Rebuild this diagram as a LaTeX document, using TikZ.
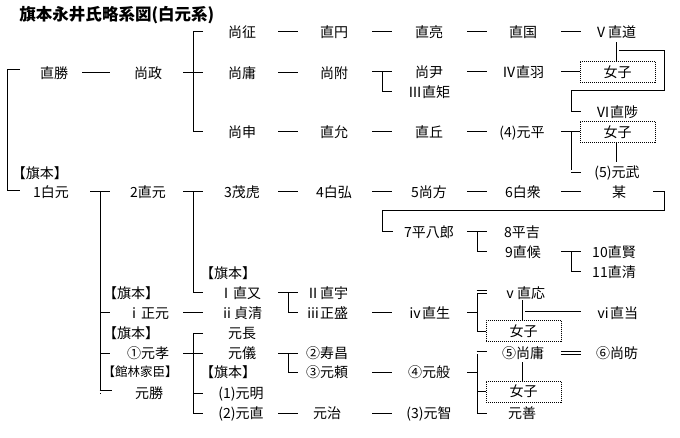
\documentclass[tikz,border=0pt]{standalone}
\usepackage{fontspec}
\setmainfont{Noto Sans CJK JP}
\usetikzlibrary{calc}
\newcommand\mydash[3]{\draw ($(#1 |- #2)+(-#3,0)$) -- ($(#1 |- #2)+(#3,0)$);}
\newcommand\fw[1]{\makebox[1em][c]{#1}}
\begin{document}
\begin{tikzpicture}[x=1pt,y=-1pt,line width=1pt,
  jp/.style={inner sep=0pt,text height=12.3pt,text depth=1.7pt,font=\fontsize{14}{14}\selectfont},
  lbl/.style={inner sep=0pt,text height=11.2pt,text depth=1.6pt,font=\fontsize{12.5}{12.5}\selectfont},
  jbox/.style={jp,draw,dash pattern=on 1pt off 1pt,line width=0.8pt,minimum width=75pt,minimum height=21pt},
  dbl/.style={double,double distance=2pt,line width=0.9pt}]
\fill[white] (0,0) rectangle (680,438);
\useasboundingbox (0,0) rectangle (680,438);
% gap columns
\coordinate (gL) at (7,0);
\coordinate (gA) at (100,0);
\coordinate (gB) at (193,0);
\coordinate (gC) at (288,0);
\coordinate (gD) at (382,0);
\coordinate (gE) at (477,0);
\coordinate (gF) at (571,0);
% title
\node[anchor=west,inner sep=0pt,font=\fontsize{16.5}{17}\selectfont\bfseries] (title) at (19,15) {旗本永井氏略系図(白元系)};
% row 1
\node[jp] (n11) at (242,32) {尚征};
\node[jp] (n12) at (334,32) {直円};
\node[jp] (n13) at (429,32) {直亮};
\node[jp] (n14) at (523,32) {直国};
\node[jp] (n15) at (615,32) {\fw{Ⅴ}直道};
% row 2
\node[jp] (katsu) at (54,73) {直勝};
\node[jp] (masa) at (148,73) {尚政};
\node[jp] (n21) at (242,73) {尚庸};
\node[jp] (n22) at (334,73) {尚附};
\node[jp] (n23) at (429,72) {尚尹};
\node[jp] (n24) at (523,72) {\fw{Ⅳ}直羽};
\node[jbox] (jo1) at (617.5,72) {女子};
\node[jp] (n23b) at (429,92) {\fw{Ⅲ}直矩};
\node[jp] (n6) at (617,112) {\fw{Ⅵ}直陟};
% row 3
\node[jp] (n31) at (242,132) {尚申};
\node[jp] (n32) at (334,132) {直允};
\node[jp] (n33) at (429,132) {直丘};
\node[jp] (n34) at (522,132) {(4)元平};
\node[jbox] (jo2) at (617.5,132) {女子};
\node[jp] (n35) at (617,172) {(5)元武};
% row 4
\node[jp] (hb1) at (40,173) {【旗本】};
\node[jp] (r1) at (51,192) {1白元};
\node[jp] (r2) at (148,192) {2直元};
\node[jp] (r3) at (242,192) {3茂虎};
\node[jp] (r4) at (334,192) {4白弘};
\node[jp] (r5) at (429,192) {5尚方};
\node[jp] (r6) at (523,192) {6白衆};
\node[jp] (r7) at (619,192) {某};
\node[jp] (r8) at (429,232) {7平八郎};
\node[jp] (r9) at (522,232) {8平吉};
\node[jp] (r10) at (523,252) {9直候};
\node[jp] (r11) at (614,252) {10直賢};
\node[jp] (r12) at (614,272) {11直清};
% bottom part
\node[jp] (hb2) at (228,273) {【旗本】};
\node[jp] (b1) at (240,293) {\fw{Ⅰ}直又};
\node[jp] (hb3) at (131,293) {【旗本】};
\node[jp] (b2) at (327,293) {\fw{Ⅱ}直宇};
\node[jp] (b3) at (524,293) {\fw{ⅴ}直応};
\node[jp] (c1) at (148,313) {\fw{ⅰ}正元};
\node[jp] (c2) at (241,313) {\fw{ⅱ}貞清};
\node[jp] (c3) at (327,313) {ⅲ正盛};
\node[jp] (c4) at (429,313) {ⅳ直生};
\node[jp] (c5) at (617,313) {ⅵ直当};
\node[jbox] (jo3) at (523.5,331) {女子};
\node[jp] (hb4) at (131,333) {【旗本】};
\node[jp] (d1) at (242,333) {元長};
\node[jp] (e1) at (148,353) {①元孝};
\node[jp] (e2) at (242,353) {元儀};
\node[jp] (e3) at (327,353) {②寿昌};
\node[jp] (e4) at (523,353) {⑤尚庸};
\node[jp] (e5) at (617,353) {⑥尚昉};
\node[lbl] (hb5) at (140,372) {【館林家臣】};
\node[jp] (hb6) at (228,372) {【旗本】};
\node[jp] (f1) at (327,372) {③元頼};
\node[jp] (f2) at (429,372) {④元般};
\node[jbox] (jo4) at (523.5,391.5) {女子};
\node[jp] (g1) at (149,393) {元勝};
\node[jp] (g2) at (241,393) {(1)元明};
\node[jp] (h1) at (241,413) {(2)元直};
\node[jp] (h2) at (327,413) {元治};
\node[jp] (h3) at (429,413) {(3)元智};
\node[jp] (h4) at (522,413) {元善};
% ---- connectors ----
% row 1
\mydash{gC}{n11}{10}
\mydash{gD}{n12}{10}
\mydash{gE}{n13}{10}
\mydash{gF}{n14}{10}
% row 2
\draw ($(katsu.center)+(28,0)$) -- ($(masa.center)+(-38,0)$);
\mydash{gB}{masa}{10}
\draw ($(gB |- n11)+(10,0)$) -- (gB |- n11) -- (gB |- n31) -- ++(10,0);
\mydash{gC}{n21}{10}
\mydash{gD}{n23}{10}
\draw (gD |- n23) -- (gD |- n23b) -- ++(10,0);
\mydash{gE}{n23}{10}
\draw ($(gF |- n24)+(-10,0)$) -- (jo1.west);
\draw[dbl] ($(jo1.north)+(0,-19)$) -- (jo1.north);
\draw ($(jo1.north)+(1.5,-10.5)$) -| ($(jo1.east)+(9,19)$) -| (gF |- n6) -- ++(10,0);
% row 3
\mydash{gC}{n31}{10}
\mydash{gD}{n32}{10}
\mydash{gE}{n33}{10}
\draw ($(gF |- n34)+(-10,0)$) -- (jo2.west);
\draw (gF |- jo2.west) -- ($(gF |- n35)+(0,1)$);
\draw[dbl] ($(gF |- n35)+(-0.5,-0.5)$) -- ++(10,0);
\draw[dbl] (jo2.south) -- ($(jo2.south)+(0,19)$);
% left bracket
\draw ($(gL |- katsu)+(13,-3)$) -- ($(gL |- katsu)+(0,-3)$) -- ($(gL |- r1)+(0,-1)$) -- ++(13,0);
% row 4
\mydash{gC}{r3}{10}
\mydash{gD}{r4}{10}
\mydash{gE}{r5}{10}
\mydash{gF}{r6}{10}
\draw ($(r7.center)+(34,0)$) -| ($(r7.center)+(45,19)$) -| (gD |- r8) -- ++(11,0);
\mydash{gE}{r8}{10}
\draw (gE |- r8) -- (gE |- r10) -- ++(10,0);
\mydash{gF}{r10}{10}
\draw (gF |- r10) -- (gF |- r12) -- ++(10,0);
% 1 hakugen bracket
\mydash{gA}{r1}{10}
\draw (gA |- r1) -- ($(gA |- g1)+(0,0.5)$);
\draw (gA |- c1) -- ++(10,0);
\draw (gA |- e1) -- ++(10,0);
\draw[dbl] ($(gA |- g1)+(-0.5,-1.5)$) -- ++(12,0);
% 2 naomoto bracket
\mydash{gB}{r2}{10}
\draw (gB |- r2) -- (gB |- b1) -- ++(10,0);
% i-line
\mydash{gB}{c1}{10}
\mydash{gC}{b1}{10}
\draw (gC |- b1) -- (gC |- c3) -- ++(10,0);
\mydash{gD}{c3}{10}
\draw ($(gE |- c4)+(-10,0)$) -- (gE |- c4);
\draw ($(gE |- b3)+(0,-2.5)$) -- (gE |- jo3.west) -- (jo3.west);
\draw[dbl] ($(gE |- b3)+(-0.5,-1)$) -- ++(10.5,0);
\draw[dbl] ($(jo3.north)+(0,-20)$) -- (jo3.north);
\draw ($(jo3.north |- c5)+(1.5,-1)$) -- ($(gF |- c5)+(10,-1)$);
% circled line
\mydash{gB}{e1}{10}
\draw ($(gB |- d1)+(10,0)$) -- (gB |- d1) -- (gB |- h1) -- ++(10,0);
\draw (gB |- g2) -- ++(10,0);
\mydash{gC}{e2}{10}
\draw (gC |- e2) -- (gC |- f1) -- ++(10,0);
\mydash{gD}{f1}{10}
\draw ($(gE |- f2)+(-10,0)$) -- (gE |- f2);
\draw ($(gE |- e4)+(0,-2.5)$) -- (gE |- h4) -- ++(10,0);
\draw (gE |- jo4.west) -- (jo4.west);
\draw[dbl] ($(gE |- e4)+(-0.5,-0.5)$) -- ++(10.5,0);
\draw[dbl] ($(gF |- e4)+(-10,0)$) -- ($(gF |- e4)+(10,0)$);
\draw[dbl] ($(jo4.north)+(0,-19)$) -- (jo4.north);
% bottom row
\mydash{gC}{h1}{10}
\mydash{gD}{h2}{10}
\end{tikzpicture}
\end{document}
